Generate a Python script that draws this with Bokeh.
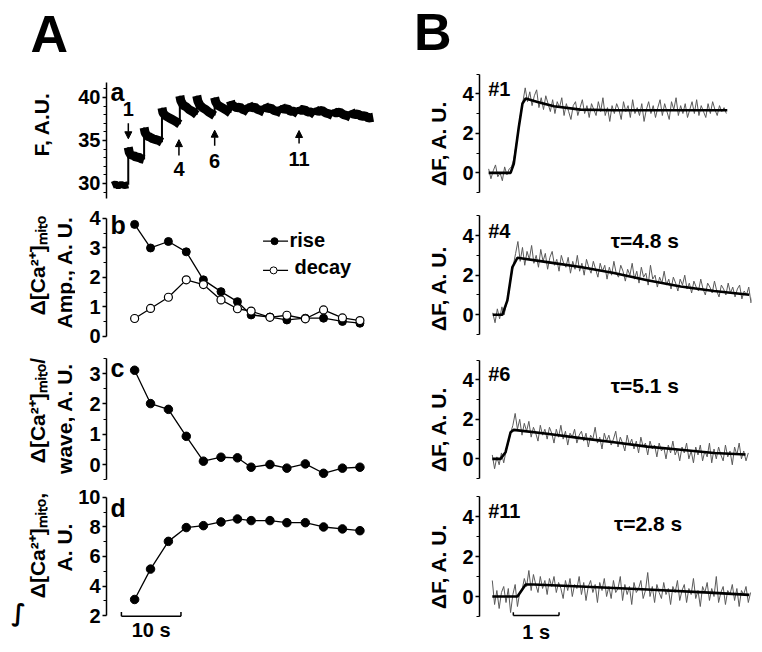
import numpy as np
from bokeh.plotting import figure
from bokeh.models import Range1d, FixedTicker, Label, Arrow, NormalHead, ColumnDataSource
from bokeh.layouts import row, column
from bokeh.embed import file_html
from bokeh.resources import INLINE

FONT = "Liberation Sans"

# ---------------- data: panel A ----------------
# (a) raw fluorescence trace, one list per wave (time s, F a.u.)
a_wave_t = [
    [0.0, 0.5, 1.0, 1.5, 2.0, 2.67],
    [2.67, 2.85, 3.2, 3.6, 4.0, 4.4, 4.8, 5.33],
    [5.33, 5.5, 5.9, 6.3, 6.8, 7.3, 7.8, 8.33],
    [8.33, 8.5, 8.9, 9.4, 9.9, 10.4, 10.9, 11.33],
    [11.33, 11.5, 11.9, 12.4, 12.9, 13.4, 13.8, 14.17],
    [14.17, 14.35, 14.7, 15.2, 15.7, 16.2, 16.7, 17.17],
    [17.17, 17.35, 17.7, 18.2, 18.7, 19.2, 19.83],
    [19.83, 20.0, 20.4, 20.9, 21.4, 21.9, 22.4, 22.83],
    [22.83, 23.0, 23.4, 23.9, 24.4, 24.9, 25.5],
    [25.5, 25.7, 26.1, 26.6, 27.1, 27.7, 28.33],
    [28.33, 28.5, 28.9, 29.4, 29.9, 30.5, 31.17],
    [31.17, 31.35, 31.8, 32.3, 32.8, 33.4, 34.0],
    [34.0, 34.2, 34.6, 35.2, 35.8, 36.4, 37.0],
    [37.0, 37.2, 37.6, 38.2, 38.8, 39.4, 40.0],
    [40.0, 40.2, 40.6, 41.2, 41.8, 42.4, 43.0, 43.8],
]
a_wave_F = [
    [29.8, 29.95, 29.7, 29.9, 29.75, 29.85],
    [34.2, 33.6, 33.2, 33.3, 33.0, 33.1, 32.9, 32.8],
    [36.5, 35.9, 35.5, 35.4, 35.2, 35.1, 35.0, 34.8],
    [38.8, 38.2, 37.9, 37.7, 37.5, 37.3, 37.1, 36.9],
    [40.2, 39.6, 39.1, 38.9, 38.6, 38.4, 38.2, 38.0],
    [40.2, 39.6, 39.1, 38.8, 38.6, 38.3, 38.1, 37.9],
    [40.0, 39.5, 39.1, 38.9, 38.7, 38.5, 38.2],
    [39.6, 39.2, 39.0, 38.8, 38.9, 38.6, 38.5, 38.3],
    [39.3, 39.0, 38.8, 38.9, 38.6, 38.5, 38.3],
    [39.2, 38.9, 38.7, 38.8, 38.5, 38.4, 38.2],
    [39.1, 38.8, 38.6, 38.7, 38.4, 38.4, 38.1],
    [38.9, 38.6, 38.5, 38.6, 38.3, 38.3, 38.0],
    [38.8, 38.5, 38.4, 38.5, 38.2, 38.1, 37.9],
    [38.6, 38.3, 38.2, 38.3, 38.0, 37.9, 37.7],
    [38.5, 38.2, 38.0, 38.1, 37.8, 37.9, 37.6, 37.7],
]
a_marks_t = [2.68, 11.18, 17.18, 31.35]
a_marks_lbl = ["1", "4", "6", "11"]

# (b)-(d) per-wave values
wave_t = [3.74, 6.41, 9.41, 12.41, 15.29, 18.24, 21.0, 23.3, 26.46, 29.3, 32.4, 35.46, 38.63, 41.57]
amp_rise = [3.80, 3.00, 3.22, 2.87, 1.92, 1.52, 1.18, 0.73, 0.66, 0.56, 0.62, 0.62, 0.51, 0.45]
amp_decay = [0.61, 0.95, 1.33, 1.92, 1.76, 1.24, 0.94, 0.86, 0.65, 0.72, 0.60, 0.90, 0.63, 0.54]
per_wave = [3.11, 2.01, 1.82, 0.93, 0.11, 0.24, 0.22, -0.09, 0.0, -0.12, 0.02, -0.29, -0.12, -0.09]
integral = [3.10, 5.15, 7.02, 7.95, 8.08, 8.33, 8.53, 8.42, 8.42, 8.28, 8.28, 7.99, 7.86, 7.74]

# ---------------- data: panel B ----------------
DT = 0.05  # sampling interval of the recorded traces (s)
tr_start = [0.0, 0.09, 0.08, 0.08]
tr1 = [0.2, -0.3, 0.1, 0.4, -0.2, 0.0, -0.4, 0.3, -0.1, 0.2,
       0.3, 0.7, 1.4, 2.2, 3.0, 3.6, 4.3, 3.6, 4.1, 3.4,
       3.9, 4.2, 3.3, 3.8, 3.2, 3.9, 3.5, 3.1, 3.7, 3.0,
       3.6, 3.3, 3.8, 2.9, 3.5, 3.1, 2.7, 3.4, 3.6, 2.9, 3.3,
       3.7, 3.0, 3.4, 2.8, 3.5, 3.2, 2.9, 3.6, 3.1, 3.8,
       2.9, 3.3, 2.6, 3.4, 3.0, 3.5, 3.2, 2.7, 3.6, 3.1,
       3.4, 2.8, 3.7, 3.0, 3.3, 2.9, 3.5, 2.6, 3.2, 3.6,
       3.0, 3.4, 2.8, 3.3, 3.7, 2.9, 3.5, 3.1, 2.7, 3.6,
       3.2, 3.8, 2.9, 3.4, 3.0, 3.5, 2.8, 3.2, 3.6, 3.0,
       3.7, 2.9, 3.4, 3.1, 2.8, 3.5, 3.0, 3.6, 3.2, 2.9,
       3.4, 3.1, 3.3, 3.0]
tr4 = [0.1, -0.4, 0.3, -0.2, 0.4, 0.0, 0.6, 1.1, 1.9, 2.5, 3.1, 3.7,
       2.7, 3.4, 2.5, 3.2, 2.8, 3.5, 2.6, 3.0, 2.4, 3.3, 2.7, 3.1, 2.3, 2.9,
       3.2, 2.5, 2.8, 2.2, 3.0, 2.6, 2.4, 2.9, 2.1, 2.7, 2.3, 3.0, 2.2, 2.6,
       2.0, 2.8, 2.4, 2.1, 2.7, 2.3, 1.9, 2.6, 2.2, 2.5, 1.8, 2.4, 2.0, 2.7,
       2.1, 1.9, 2.5, 2.2, 1.7, 2.3, 2.0, 2.6, 1.8, 2.2, 1.6, 2.4, 1.9, 2.1,
       1.5, 2.5, 1.8, 2.0, 1.4, 1.9, 1.6, 2.2, 1.5, 1.8, 1.3, 1.9, 1.6, 1.2,
       1.8, 1.5, 2.0, 1.3, 1.6, 1.1, 1.7, 1.4, 1.2, 1.8, 1.3, 1.0, 1.6, 1.4,
       1.1, 1.7, 1.2, 0.9, 1.5, 1.3, 1.0, 1.6, 1.1, 1.4, 0.9, 1.3, 1.5, 0.8,
       1.2, 1.0, 1.4, 0.6, 1.1]
tr6 = [0.2, -0.5, 0.1, -0.3, 0.3, -0.2, 0.4, 0.8, 1.3, 1.7, 2.3,
       1.5, 2.0, 1.2, 1.8, 1.4, 1.9, 1.1, 1.6, 1.3, 0.9, 1.7, 1.2, 1.5, 1.0,
       1.6, 1.3, 0.8, 1.5, 1.1, 1.7, 1.0, 1.4, 0.7, 1.3, 1.1, 1.5, 0.8, 1.2,
       1.4, 0.9, 1.3, 0.6, 1.2, 1.0, 1.6, 0.8, 1.1, 0.5, 1.3, 0.9, 1.2, 0.7,
       1.0, 1.4, 0.6, 1.1, 0.8, 0.4, 1.2, 0.7, 1.0, 0.5, 0.9, 0.3, 1.1, 0.6,
       0.8, 0.2, 0.9, 0.5, 0.7, 0.1, 0.8, 0.4, 0.6, 0.0, 0.7, 0.3, 0.9, 0.2,
       0.5, -0.1, 0.6, 0.3, 0.8, 0.0, 0.4, -0.2, 0.6, 0.2, 0.7, -0.1, 0.4,
       0.1, 0.8, -0.2, 0.5, 0.0, 0.6, 0.2, -0.1, 0.7, 0.1, 0.4, -0.3, 0.6,
       0.2, 0.8, 0.0, 0.4, -0.1, 0.3]
tr11 = [0.8, -0.4, 0.3, -0.6, 0.2, 0.5, -0.3, 0.4, -0.8, 0.1, 0.6,
        -0.5, 0.2, 0.3, 0.9, 0.5, 1.3, 0.3, 1.1, 0.6, 0.2, 1.0, 0.4, 0.8,
        0.1, 0.9, 0.5, 1.0, 0.2, 0.7, 0.4, -0.1, 0.8, 0.3, 0.9, 0.0, 0.6,
        0.4, 1.0, 0.1, 0.7, -0.2, 0.5, 0.8, 0.2, 0.6, -0.3, 0.7, 0.3, 0.9,
        0.0, 0.5, -0.1, 0.8, 0.2, 0.4, 1.0, -0.2, 0.6, 0.1, 0.5, -0.4, 0.7,
        0.2, 0.4, 0.8, -0.1, 0.3, 1.2, 0.0, 0.5, -0.3, 0.6, 0.2, -0.1, 0.7,
        0.1, 0.4, -0.4, 0.5, 0.2, 0.8, -0.2, 0.3, 0.6, -0.3, 0.4, 0.1, 0.9,
        -0.1, 0.3, -0.5, 0.5, 0.2, 0.7, -0.2, 0.4, 0.0, 1.0, -0.3, 0.2, 0.5,
        -0.4, 0.3, 0.1, 0.6, -0.2, 0.4, -0.5, 0.3, 0.1, 0.5, -0.3, 0.2]
fit1_t = [0.0, 0.48, 0.55, 0.66, 0.74, 0.81, 1.07, 1.43, 2.01, 2.74, 5.22]
fit1_y = [0.0, 0.0, 0.46, 2.32, 3.51, 3.76, 3.59, 3.37, 3.20, 3.17, 3.17]
fit4_t = [0.09, 0.30, 0.41, 0.52, 0.63, 1.28, 2.01, 2.74, 3.47, 4.20, 4.93, 5.70]
fit4_y = [0.0, 0.0, 0.73, 2.41, 2.88, 2.66, 2.41, 2.11, 1.74, 1.43, 1.20, 1.01]
fit6_t = [0.08, 0.26, 0.37, 0.48, 0.55, 1.28, 2.01, 2.74, 3.47, 4.20, 4.93, 5.62]
fit6_y = [0.0, 0.0, 0.34, 1.35, 1.47, 1.27, 1.05, 0.84, 0.62, 0.46, 0.30, 0.22]
fit11_t = [0.08, 0.63, 0.81, 0.99, 2.01, 3.47, 4.93, 5.70]
fit11_y = [0.0, 0.0, 0.6, 0.6, 0.5, 0.35, 0.18, 0.08]
B_names = ["#1", "#4", "#6", "#11"]
B_tau = [None, "τ=4.8 s", "τ=5.1 s", "τ=2.8 s"]

CA = "Δ[Ca²⁺]ₘᵢₜₒ"


def make_fig(w, h, xr, yr, bl, br, bounds, major, minor, tick_size="19px"):
    p = figure(width=w, height=h, x_range=Range1d(*xr), y_range=Range1d(*yr),
               output_backend="svg", toolbar_location=None, tools="",
               x_axis_location=None, min_border_left=bl, min_border_right=br,
               min_border_top=0, min_border_bottom=0)
    p.grid.visible = False
    p.outline_line_color = None
    ax = p.yaxis[0]
    ax.bounds = bounds
    ax.ticker = FixedTicker(ticks=major, minor_ticks=minor)
    ax.axis_line_width = 1.5
    ax.axis_line_color = "black"
    ax.major_tick_line_width = 1.5
    ax.minor_tick_line_width = 1.2
    ax.major_tick_out = 4
    ax.major_tick_in = 0
    ax.minor_tick_out = 3
    ax.minor_tick_in = 0
    ax.major_label_text_font = FONT
    ax.major_label_text_font_style = "bold"
    ax.major_label_text_font_size = tick_size
    ax.major_label_text_color = "black"
    ax.major_label_standoff = 2
    return p


def blank_fig(w, h, xr, yr):
    p = figure(width=w, height=h, x_range=Range1d(*xr), y_range=Range1d(*yr),
               output_backend="svg", toolbar_location=None, tools="",
               x_axis_location=None, y_axis_location=None, min_border_left=0,
               min_border_right=0, min_border_top=0, min_border_bottom=0)
    p.grid.visible = False
    p.outline_line_color = None
    return p


def lab(p, x, y, text, size="20px", align="left", angle=0.0, style="bold", font=FONT):
    p.add_layout(Label(x=x, y=y, text=text, text_font=font, text_font_size=size,
                       text_font_style=style, text_align=align, text_baseline="middle",
                       angle=angle, text_color="black"))


LX = (-0.983, 44.35)
RX = (-0.2, 5.75)
ROT = np.pi / 2
HEAD = dict(size=7, fill_color="black", line_color="black")

# ---- label strip, left (pixel coordinates, y downwards)
LL = blank_fig(75, 644, (0, 75), (644, 0))
lab(LL, 30, 33.8, "A", size="52px")
lab(LL, 41, 124, "F, A.U.", size="21px", align="center", angle=ROT)
lab(LL, 37, 265, CA, size="21px", align="center", angle=ROT)
lab(LL, 64, 272, "Amp., A. U.", size="21px", align="center", angle=ROT)
lab(LL, 37, 410, CA + "/", size="21px", align="center", angle=ROT)
lab(LL, 64, 418, "wave, A. U.", size="21px", align="center", angle=ROT)
lab(LL, 37, 545, CA + ",", size="21px", align="center", angle=ROT)
lab(LL, 64, 547, "A. U.", size="21px", align="center", angle=ROT)
lab(LL, 18, 612, "∫", size="24px", align="center", font="DejaVu Sans")

# ---- (a)
fa = make_fig(309, 205, LX, (27.44, 51.28), 29, 8, (28.2, 41.7), [30, 35, 40],
              list(range(29, 42)), tick_size="20px")
wave_width = [7] + [9] * (len(a_wave_t) - 1)  # noise band thickness (style)
fa.multi_line("xs", "ys", line_color="black", line_width="w",
              source=ColumnDataSource(dict(xs=a_wave_t, ys=a_wave_F, w=wave_width)))
step_x = [w[0] for w in a_wave_t[1:]]
step_y0 = [f[-1] for f in a_wave_F[:-1]]
step_y1 = [f[0] for f in a_wave_F[1:]]
fa.segment(step_x, step_y0, step_x, step_y1, line_color="black", line_width=2)
fa.add_layout(Arrow(x_start=a_marks_t[0], y_start=37.0, x_end=a_marks_t[0], y_end=35.2,
                    line_width=1.5, end=NormalHead(**HEAD)))
lab(fa, a_marks_t[0], 38.72, a_marks_lbl[0], align="center")
for t, s, y0, y1, yl in zip(a_marks_t[1:], a_marks_lbl[1:], [33.26, 34.4, 34.65],
                            [35.1, 36.2, 36.16], [31.74, 32.56, 32.79]):
    fa.add_layout(Arrow(x_start=t, y_start=y0, x_end=t, y_end=y1, line_width=1.5,
                        end=NormalHead(**HEAD)))
    lab(fa, t, yl, s, align="center")
lab(fa, -0.32, 40.67, "a", size="25px")

# ---- (b)
fb = make_fig(309, 145, LX, (-0.475, 4.44), 29, 8, (0, 4), [0, 1, 2, 3, 4],
              [0.5, 1.5, 2.5, 3.5], tick_size="20px")
fb.line(wave_t, amp_rise, line_color="black", line_width=1.3)
fb.scatter(wave_t, amp_rise, size=8, fill_color="black", line_color="black")
fb.line(wave_t, amp_decay, line_color="black", line_width=1.3)
fb.scatter(wave_t, amp_decay, size=8, fill_color="white", line_color="black", line_width=1.2)
fb.line([25.3, 29.5], [3.23, 3.23], line_color="black", line_width=1.3)
fb.scatter([27.23], [3.23], size=7, fill_color="black", line_color="black")
fb.line([25.3, 29.5], [2.24, 2.24], line_color="black", line_width=1.3)
fb.scatter([27.07], [2.24], size=7, fill_color="white", line_color="black")
lab(fb, 29.73, 3.26, "rise", size="20px")
lab(fb, 30.57, 2.36, "decay", size="20px")
lab(fb, -0.32, 3.79, "b", size="25px")

# ---- (c)
fc = make_fig(309, 136, LX, (-0.726, 3.762), 29, 8, (-0.5, 3.5), [0, 1, 2, 3],
              [-0.5, 0.5, 1.5, 2.5, 3.5], tick_size="20px")
fc.line(wave_t, per_wave, line_color="black", line_width=1.3)
fc.scatter(wave_t, per_wave, size=8.5, fill_color="black", line_color="black")
lab(fc, -0.32, 3.17, "c", size="25px")

# ---- (d)
fd = make_fig(309, 158, LX, (0.065, 10.72), 29, 8, (2, 10), [2, 4, 6, 8, 10], [3, 5, 7, 9],
              tick_size="20px")
fd.line(wave_t, integral, line_color="black", line_width=1.3)
fd.scatter(wave_t, integral, size=8.5, fill_color="black", line_color="black")
fd.segment([1.52], [1.97], [11.52], [1.97], line_color="black", line_width=1.5)
fd.segment([1.52, 11.52], [1.97, 1.97], [1.52, 11.52], [2.26, 2.26], line_color="black",
           line_width=1.5)
lab(fd, 6.52, 1.03, "10 s", size="20px", align="center")
lab(fd, -0.32, 9.24, "d", size="25px")

# ---- label strip, right (pixel coordinates, y downwards)
RL = blank_fig(72, 644, (384, 456), (644, 0))
lab(RL, 413.5, 31.8, "B", size="52px")
for yc in [143, 288, 429, 566]:
    lab(RL, 438, yc, "ΔF, A. U.", size="21px", align="center", angle=ROT)

# ---- B panels
RMAJ = [0, 2, 4]
RMIN = [-1, 1, 3, 5]
specs = [
    (200, (-1.40, 8.72), tr1, fit1_t, fit1_y, 4.25, None),
    (145, (-1.55, 5.77), tr4, fit4_t, fit4_y, 4.24, (2.67, 3.75)),
    (143, (-1.50, 5.74), tr6, fit6_t, fit6_y, 4.30, (2.67, 3.71)),
    (156, (-2.40, 5.40), tr11, fit11_t, fit11_y, 4.28, (2.74, 3.65)),
]
right_figs = []
for k, (h, yr, tr, ft, fy, yname, taupos) in enumerate(specs):
    p = make_fig(298, h, RX, yr, 23, 3, (-1, 5), RMAJ, RMIN, tick_size="20px")
    tt = tr_start[k] + np.arange(len(tr)) * DT
    p.line(tt, tr, line_color="#5a5a5a", line_width=1)
    p.line(ft, fy, line_color="black", line_width=2.6)
    lab(p, -0.01, yname, B_names[k], size="20px")
    if taupos is not None:
        lab(p, taupos[0], taupos[1], B_tau[k], size="21px")
    right_figs.append(p)

p11 = right_figs[3]
p11.segment([0.54], [-0.95], [1.54], [-0.95], line_color="black", line_width=1.5)
p11.segment([0.54, 1.54], [-0.95, -0.95], [0.54, 1.54], [-0.785, -0.785], line_color="black",
            line_width=1.5)
lab(p11, 1.04, -1.75, "1 s", size="20px", align="center")

layout = row(LL, column(fa, fb, fc, fd), RL, column(*right_figs))
with open("out.html", "w") as f:
    f.write(file_html(layout, INLINE))
